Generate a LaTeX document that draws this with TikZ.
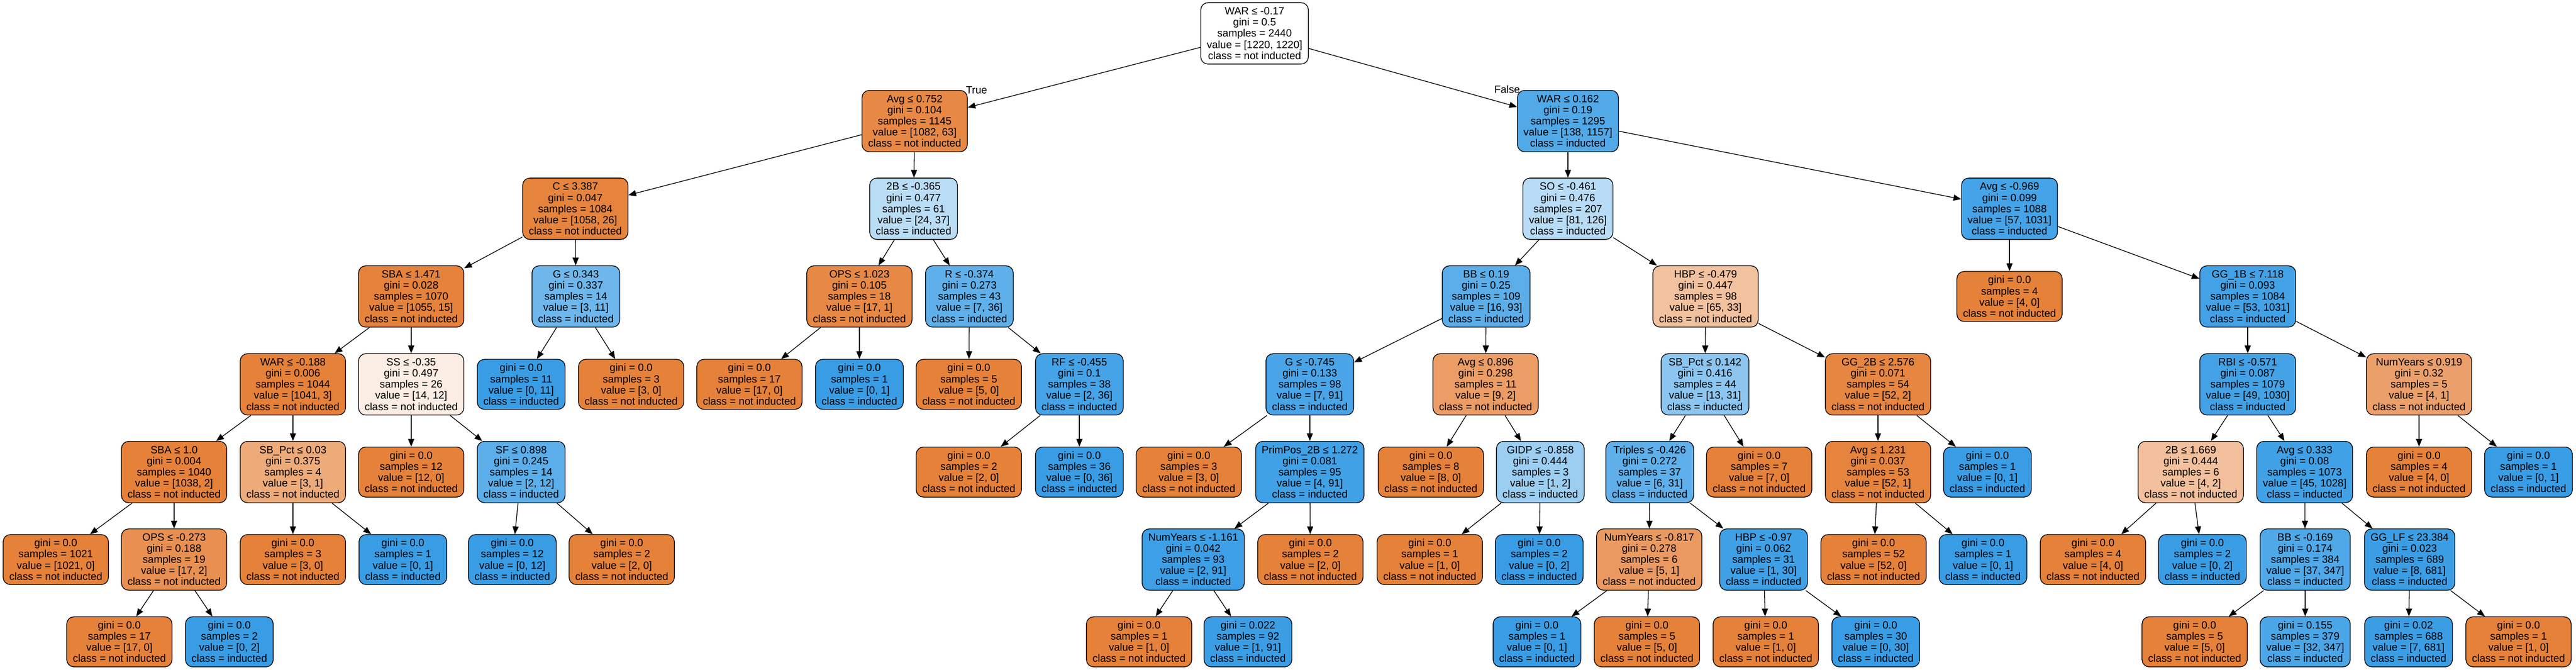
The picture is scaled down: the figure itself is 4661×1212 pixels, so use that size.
\documentclass[tikz,border=0pt]{standalone}
\usepackage{fontspec}
\setmainfont{Liberation Sans}
\usetikzlibrary{arrows.meta}
\definecolor{cO}{RGB}{229,129,57}
\definecolor{cB}{RGB}{57,157,229}
\newcommand\lfN[3]{gini = #1\\samples = #2\\value = #3\\class = not inducted}
\newcommand\lfI[3]{gini = #1\\samples = #2\\value = #3\\class = inducted}
\newcommand\spN[4]{#1\\gini = #2\\samples = #3\\value = #4\\class = not inducted}
\newcommand\spI[4]{#1\\gini = #2\\samples = #3\\value = #4\\class = inducted}
\tikzset{
  tn/.style={draw=black, line width=1.3pt, rounded corners=13pt, align=center,
    font=\fontsize{19}{20.1}\selectfont, inner xsep=11pt, inner ysep=0pt},
  sp/.style={tn, minimum height=111pt},
  lf/.style={tn, minimum height=90.5pt},
  edg/.style={-{Triangle[length=14pt,width=11pt]}, line width=1.3pt, draw=black},
  lbl/.style={font=\fontsize{19}{20.1}\selectfont, inner sep=0pt}
}
\begin{document}
\begin{tikzpicture}[x=1pt,y=-1pt]
\useasboundingbox (0,0) rectangle (4661,1212);
\def\La{60.4}\def\Lb{219}\def\Lc{377.6}\def\Ld{536.3}
\def\Le{695.3}\def\Lf{853.9}\def\Lg{1012.2}\def\Lh{1161}
% level 0
\node[sp, fill=white] (n0) at (2270,\La) {\spN{WAR ≤ -0.17}{0.5}{2440}{[1220, 1220]}};
% level 1
\node[sp, fill=cO!94] (n1) at (1655,\Lb) {\spN{Avg ≤ 0.752}{0.104}{1145}{[1082, 63]}};
\node[sp, fill=cB!88] (n2) at (2837,\Lb) {\spI{WAR ≤ 0.162}{0.19}{1295}{[138, 1157]}};
% level 2
\node[sp, fill=cO!98] (n3) at (1041,\Lc) {\spN{C ≤ 3.387}{0.047}{1084}{[1058, 26]}};
\node[sp, fill=cB!35] (n4) at (1653,\Lc) {\spI{2B ≤ -0.365}{0.477}{61}{[24, 37]}};
\node[sp, fill=cB!36] (n5) at (2837,\Lc) {\spI{SO ≤ -0.461}{0.476}{207}{[81, 126]}};
\node[sp, fill=cB!94] (n6) at (3636,\Lc) {\spI{Avg ≤ -0.969}{0.099}{1088}{[57, 1031]}};
% level 3
\node[sp, fill=cO!99] (n7) at (744,\Ld) {\spN{SBA ≤ 1.471}{0.028}{1070}{[1055, 15]}};
\node[sp, fill=cB!73] (n8) at (1042,\Ld) {\spI{G ≤ 0.343}{0.337}{14}{[3, 11]}};
\node[sp, fill=cO!94] (n9) at (1555,\Ld) {\spN{OPS ≤ 1.023}{0.105}{18}{[17, 1]}};
\node[sp, fill=cB!81] (n10) at (1754,\Ld) {\spI{R ≤ -0.374}{0.273}{43}{[7, 36]}};
\node[sp, fill=cB!83] (n11) at (2689,\Ld) {\spI{BB ≤ 0.19}{0.25}{109}{[16, 93]}};
\node[sp, fill=cO!49] (n12) at (3086,\Ld) {\spN{HBP ≤ -0.479}{0.447}{98}{[65, 33]}};
\node[lf, fill=cO] (n13) at (3636,\Ld) {\lfN{0.0}{4}{[4, 0]}};
\node[sp, fill=cB!95] (n14) at (4067,\Ld) {\spI{GG\_1B ≤ 7.118}{0.093}{1084}{[53, 1031]}};
% level 4
\node[sp, fill=cO] (n15) at (530,\Le) {\spN{WAR ≤ -0.188}{0.006}{1044}{[1041, 3]}};
\node[sp, fill=cO!14] (n16) at (744,\Le) {\spN{SS ≤ -0.35}{0.497}{26}{[14, 12]}};
\node[lf, fill=cB] (n17) at (943,\Le) {\lfI{0.0}{11}{[0, 11]}};
\node[lf, fill=cO] (n18) at (1142,\Le) {\lfN{0.0}{3}{[3, 0]}};
\node[lf, fill=cO] (n19) at (1356,\Le) {\lfN{0.0}{17}{[17, 0]}};
\node[lf, fill=cB] (n20) at (1555,\Le) {\lfI{0.0}{1}{[0, 1]}};
\node[lf, fill=cO] (n21) at (1753,\Le) {\lfN{0.0}{5}{[5, 0]}};
\node[sp, fill=cB!94] (n22) at (1953,\Le) {\spI{RF ≤ -0.455}{0.1}{38}{[2, 36]}};
\node[sp, fill=cB!92] (n23) at (2370,\Le) {\spI{G ≤ -0.745}{0.133}{98}{[7, 91]}};
\node[sp, fill=cO!78] (n24) at (2688,\Le) {\spN{Avg ≤ 0.896}{0.298}{11}{[9, 2]}};
\node[sp, fill=cB!58] (n25) at (3085,\Le) {\spI{SB\_Pct ≤ 0.142}{0.416}{44}{[13, 31]}};
\node[sp, fill=cO!96] (n26) at (3398,\Le) {\spN{GG\_2B ≤ 2.576}{0.071}{54}{[52, 2]}};
\node[sp, fill=cB!95] (n27) at (4067,\Le) {\spI{RBI ≤ -0.571}{0.087}{1079}{[49, 1030]}};
\node[sp, fill=cO!75] (n28) at (4377,\Le) {\spN{NumYears ≤ 0.919}{0.32}{5}{[4, 1]}};
% level 5
\node[sp, fill=cO] (n29) at (315,\Lf) {\spN{SBA ≤ 1.0}{0.004}{1040}{[1038, 2]}};
\node[sp, fill=cO!67] (n30) at (530,\Lf) {\spN{SB\_Pct ≤ 0.03}{0.375}{4}{[3, 1]}};
\node[lf, fill=cO] (n31) at (744,\Lf) {\lfN{0.0}{12}{[12, 0]}};
\node[sp, fill=cB!83] (n32) at (943,\Lf) {\spI{SF ≤ 0.898}{0.245}{14}{[2, 12]}};
\node[lf, fill=cO] (n33) at (1753,\Lf) {\lfN{0.0}{2}{[2, 0]}};
\node[lf, fill=cB] (n34) at (1953,\Lf) {\lfI{0.0}{36}{[0, 36]}};
\node[lf, fill=cO] (n35) at (2151,\Lf) {\lfN{0.0}{3}{[3, 0]}};
\node[sp, fill=cB!96] (n36) at (2370,\Lf) {\spI{PrimPos\_2B ≤ 1.272}{0.081}{95}{[4, 91]}};
\node[lf, fill=cO] (n37) at (2589,\Lf) {\lfN{0.0}{8}{[8, 0]}};
\node[sp, fill=cB!50] (n38) at (2787,\Lf) {\spI{GIDP ≤ -0.858}{0.444}{3}{[1, 2]}};
\node[sp, fill=cB!81] (n39) at (2985,\Lf) {\spI{Triples ≤ -0.426}{0.272}{37}{[6, 31]}};
\node[lf, fill=cO] (n40) at (3183,\Lf) {\lfN{0.0}{7}{[7, 0]}};
\node[sp, fill=cO!98] (n41) at (3398,\Lf) {\spN{Avg ≤ 1.231}{0.037}{53}{[52, 1]}};
\node[lf, fill=cB] (n42) at (3596,\Lf) {\lfI{0.0}{1}{[0, 1]}};
\node[sp, fill=cO!50] (n43) at (3964,\Lf) {\spN{2B ≤ 1.669}{0.444}{6}{[4, 2]}};
\node[sp, fill=cB!96] (n44) at (4170,\Lf) {\spI{Avg ≤ 0.333}{0.08}{1073}{[45, 1028]}};
\node[lf, fill=cO] (n45) at (4377,\Lf) {\lfN{0.0}{4}{[4, 0]}};
\node[lf, fill=cB] (n46) at (4575,\Lf) {\lfI{0.0}{1}{[0, 1]}};
% level 6
\node[lf, fill=cO] (n47) at (101,\Lg) {\lfN{0.0}{1021}{[1021, 0]}};
\node[sp, fill=cO!88] (n48) at (315,\Lg) {\spN{OPS ≤ -0.273}{0.188}{19}{[17, 2]}};
\node[lf, fill=cO] (n49) at (530,\Lg) {\lfN{0.0}{3}{[3, 0]}};
\node[lf, fill=cB] (n50) at (729,\Lg) {\lfI{0.0}{1}{[0, 1]}};
\node[lf, fill=cB] (n51) at (927,\Lg) {\lfI{0.0}{12}{[0, 12]}};
\node[lf, fill=cO] (n52) at (1125,\Lg) {\lfN{0.0}{2}{[2, 0]}};
\node[sp, fill=cB!98] (n53) at (2159,\Lg) {\spI{NumYears ≤ -1.161}{0.042}{93}{[2, 91]}};
\node[lf, fill=cO] (n54) at (2371,\Lg) {\lfN{0.0}{2}{[2, 0]}};
\node[lf, fill=cO] (n55) at (2587,\Lg) {\lfN{0.0}{1}{[1, 0]}};
\node[lf, fill=cB] (n56) at (2785,\Lg) {\lfI{0.0}{2}{[0, 2]}};
\node[sp, fill=cO!80] (n57) at (2984,\Lg) {\spN{NumYears ≤ -0.817}{0.278}{6}{[5, 1]}};
\node[sp, fill=cB!97] (n58) at (3191,\Lg) {\spI{HBP ≤ -0.97}{0.062}{31}{[1, 30]}};
\node[lf, fill=cO] (n59) at (3390,\Lg) {\lfN{0.0}{52}{[52, 0]}};
\node[lf, fill=cB] (n60) at (3588,\Lg) {\lfI{0.0}{1}{[0, 1]}};
\node[lf, fill=cO] (n61) at (3787,\Lg) {\lfN{0.0}{4}{[4, 0]}};
\node[lf, fill=cB] (n62) at (3985,\Lg) {\lfI{0.0}{2}{[0, 2]}};
\node[sp, fill=cB!89] (n63) at (4171,\Lg) {\spI{BB ≤ -0.169}{0.174}{384}{[37, 347]}};
\node[sp, fill=cB!99] (n64) at (4360,\Lg) {\spI{GG\_LF ≤ 23.384}{0.023}{689}{[8, 681]}};
% level 7
\node[lf, fill=cO] (n65) at (216,\Lh) {\lfN{0.0}{17}{[17, 0]}};
\node[lf, fill=cB] (n66) at (415,\Lh) {\lfI{0.0}{2}{[0, 2]}};
\node[lf, fill=cO] (n67) at (2061,\Lh) {\lfN{0.0}{1}{[1, 0]}};
\node[lf, fill=cB!99] (n68) at (2258,\Lh) {\lfI{0.022}{92}{[1, 91]}};
\node[lf, fill=cB] (n69) at (2781,\Lh) {\lfI{0.0}{1}{[0, 1]}};
\node[lf, fill=cO] (n70) at (2980,\Lh) {\lfN{0.0}{5}{[5, 0]}};
\node[lf, fill=cO] (n71) at (3195,\Lh) {\lfN{0.0}{1}{[1, 0]}};
\node[lf, fill=cB] (n72) at (3394,\Lh) {\lfI{0.0}{30}{[0, 30]}};
\node[lf, fill=cO] (n73) at (3971,\Lh) {\lfN{0.0}{5}{[5, 0]}};
\node[lf, fill=cB!91] (n74) at (4171,\Lh) {\lfI{0.155}{379}{[32, 347]}};
\node[lf, fill=cB!99] (n75) at (4358,\Lh) {\lfI{0.02}{688}{[7, 681]}};
\node[lf, fill=cO] (n76) at (4557,\Lh) {\lfN{0.0}{1}{[1, 0]}};
% edges
\foreach \a/\b in {n0/n1,n0/n2,n1/n3,n1/n4,n3/n7,n3/n8,n7/n15,n7/n16,
  n15/n29,n15/n30,n29/n47,n29/n48,n48/n65,n48/n66,n30/n49,n30/n50,
  n16/n31,n16/n32,n32/n51,n32/n52,n8/n17,n8/n18,n4/n9,n4/n10,
  n9/n19,n9/n20,n10/n21,n10/n22,n22/n33,n22/n34,n2/n5,n2/n6,
  n5/n11,n5/n12,n11/n23,n11/n24,n23/n35,n23/n36,n36/n53,n36/n54,
  n53/n67,n53/n68,n24/n37,n24/n38,n38/n55,n38/n56,n12/n25,n12/n26,
  n25/n39,n25/n40,n39/n57,n39/n58,n57/n69,n57/n70,n58/n71,n58/n72,
  n26/n41,n26/n42,n41/n59,n41/n60,n6/n13,n6/n14,n14/n27,n14/n28,
  n27/n43,n27/n44,n43/n61,n43/n62,n44/n63,n44/n64,n63/n73,n63/n74,
  n64/n75,n64/n76,n28/n45,n28/n46}
  \draw[edg] (\a) -- (\b);
\node[lbl] (tlab) at (1767,163) {True};
\node[lbl] (flab) at (2727,162) {False};
\end{tikzpicture}
\end{document}
